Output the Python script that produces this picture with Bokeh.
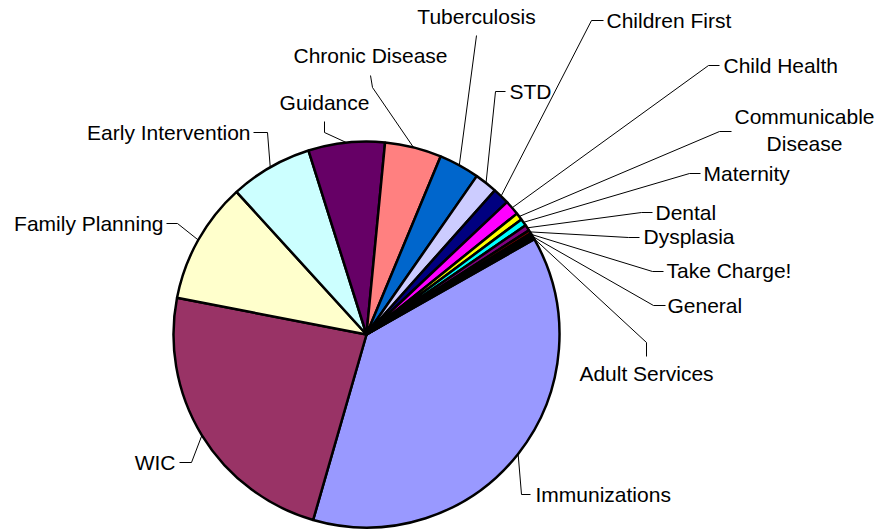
import math
from bokeh.plotting import figure
from bokeh.models import Range1d
from bokeh.core.properties import value
from bokeh.embed import file_html
from bokeh.resources import INLINE

# ---- data (share of total, %) ----
programs = ["Immunizations", "WIC", "Family Planning", "Early Intervention", "Guidance",
            "Chronic Disease", "Tuberculosis", "STD", "Children First", "Child Health",
            "Communicable Disease", "Maternity", "Dental", "Dysplasia", "Take Charge!",
            "General", "Adult Services"]
shares = [37.7, 23.6, 10.2, 6.9, 6.4, 4.75, 3.4, 1.9, 1.4, 1.25, 0.6, 0.6, 0.5, 0.3, 0.2, 0.2, 0.15]
colors = ["#9999FF", "#993366", "#FFFFCC", "#CCFFFF", "#660066", "#FF8080", "#0066CC",
          "#CCCCFF", "#000080", "#FF00FF", "#FFFF00", "#00FFFF", "#800080", "#800000",
          "#008080", "#0000FF", "#00CCFF"]

# ---- layout (screen pixel coordinates of the page) ----
W, H = 879, 531
CX, CY, R = 366, 334, 193
START_DEG = 29.6

# label layout: (text lines, text x, text y of first line, align, elbow point, tick end)
label_layout = {
    "Immunizations": (["Immunizations"], 535, 494, "left", (521, 494), (530, 494)),
    "WIC": (["WIC"], 175, 462, "right", (191, 462), (179, 462)),
    "Family Planning": (["Family Planning"], 163, 223, "right", (177, 223), (166, 223)),
    "Early Intervention": (["Early Intervention"], 250, 132, "right", (267, 132), (253, 132)),
    "Guidance": (["Guidance"], 324, 102, "center", (324, 132), (324, 121)),
    "Chronic Disease": (["Chronic Disease"], 370, 55, "center", (372, 87), (370, 75)),
    "Tuberculosis": (["Tuberculosis"], 476, 16, "center", (476, 35), (476, 35)),
    "STD": (["STD"], 509, 91, "left", (495, 91), (505, 91)),
    "Children First": (["Children First"], 606, 20, "left", (591, 20), (603, 20)),
    "Child Health": (["Child Health"], 723, 65, "left", (708, 65), (719, 65)),
    "Communicable Disease": (["Communicable", "Disease"], 804, 116, "center", (719, 131), (731, 131)),
    "Maternity": (["Maternity"], 703, 173, "left", (689, 173), (700, 173)),
    "Dental": (["Dental"], 655, 212, "left", (641, 212), (652, 212)),
    "Dysplasia": (["Dysplasia"], 643, 236, "left", (628, 237), (639, 237)),
    "Take Charge!": (["Take Charge!"], 666, 270, "left", (652, 271), (663, 271)),
    "General": (["General"], 667, 305, "left", (653, 305), (665, 305)),
    "Adult Services": (["Adult Services"], 646, 373, "center", (646, 342), (646, 356)),
}
LINE_GAP = 27


def Y(sy):
    return H - sy


p = figure(width=W, height=H, output_backend="svg", toolbar_location=None,
           x_range=Range1d(0, W), y_range=Range1d(0, H),
           min_border=0, x_axis_location=None, y_axis_location=None)
p.grid.visible = False
p.outline_line_color = None
p.background_fill_color = "white"
p.border_fill_color = "white"

total = sum(shares)
starts, ends, mids = [], [], []
cum = 0.0
for s in shares:
    a0 = math.radians(START_DEG - cum / total * 360.0)
    cum += s
    a1 = math.radians(START_DEG - cum / total * 360.0)
    starts.append(a0)
    ends.append(a1)
    mids.append((a0 + a1) / 2)

p.wedge(x=CX, y=Y(CY), radius=R, start_angle=starts, end_angle=ends, direction="clock",
        fill_color=colors, line_color="black", line_width=2.5)

# leader lines
xs, ys = [], []
for name, m in zip(programs, mids):
    lines, tx, ty, align, elbow, tick = label_layout[name]
    ex = CX + R * math.cos(m)
    ey = CY - R * math.sin(m)
    xs.append([ex, elbow[0], tick[0]])
    ys.append([Y(ey), Y(elbow[1]), Y(tick[1])])
p.multi_line(xs=xs, ys=ys, line_color="black", line_width=1)

# labels
groups = {"left": ([], [], []), "right": ([], [], []), "center": ([], [], [])}
for name in programs:
    lines, tx, ty, align, elbow, tick = label_layout[name]
    gx, gy, gt = groups[align]
    for k, ln in enumerate(lines):
        gx.append(tx)
        gy.append(Y(ty + k * LINE_GAP))
        gt.append(ln)
for align, (gx, gy, gt) in groups.items():
    p.text(x=gx, y=gy, text=gt, text_align=align, text_baseline="middle",
           text_font=value("Liberation Sans"), text_font_size="21px", text_color="black")

open("out.html", "w").write(file_html(p, INLINE))
